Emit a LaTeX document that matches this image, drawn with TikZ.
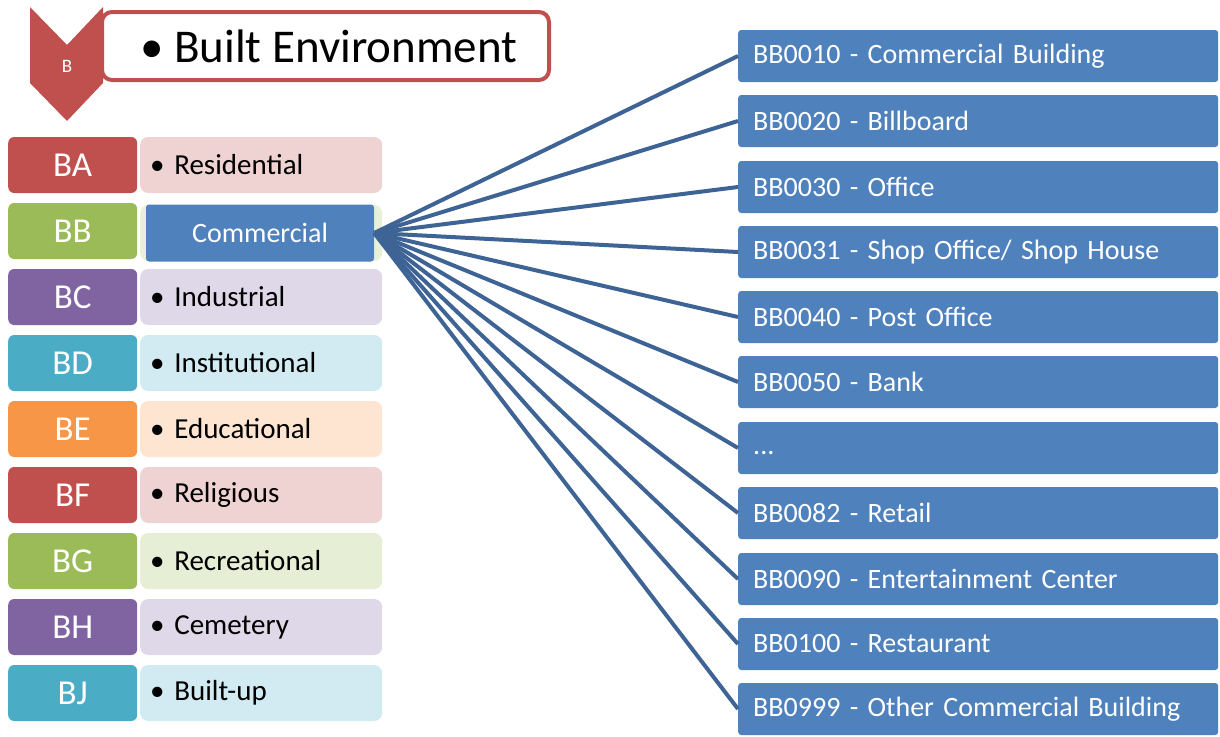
\documentclass[tikz,border=0pt]{standalone}
\usepackage{fontspec}
\setmainfont{Carlito}
\definecolor{cr}{HTML}{C0504D}
\definecolor{cg}{HTML}{9BBB59}
\definecolor{cp}{HTML}{8064A2}
\definecolor{ca}{HTML}{4BACC6}
\definecolor{co}{HTML}{F79646}
\definecolor{cb}{HTML}{4F81BD}
\definecolor{cl}{HTML}{3E6496}
\begin{document}
\begin{tikzpicture}[x=1pt,y=-1pt,
  code/.style={rounded corners=6pt, minimum width=129pt, minimum height=56pt, inner sep=0pt, text=white, font=\fontsize{35}{40}\selectfont, anchor=west},
  lab/.style={rounded corners=8pt, minimum height=56pt, text width=222pt, inner xsep=10pt, inner ysep=0pt, align=left, anchor=west, font=\fontsize{29}{34}\selectfont},
  item/.style={fill=cb, rounded corners=3pt, minimum height=52pt, text width=450pt, inner xsep=15pt, inner ysep=0pt, align=left, anchor=west, text=white, font=\fontsize{28}{32}\selectfont},
  conn/.style={draw=cl, line width=4pt}]
\useasboundingbox (0,0) rectangle (1220,736);

% header
\node[draw=cr, line width=4pt, fill=white, rounded corners=10pt, minimum width=447pt, minimum height=68pt, anchor=west] (head) at (100,46) {};
\node[anchor=west, inner sep=0pt, font=\fontsize{47}{54}\selectfont] (headtext) at (140,46) {\textbullet\ Built Environment};
\fill[cr] (30,7) -- (67,45) -- (103,7) -- (103,83) -- (67,121) -- (30,83) -- cycle;
\node[text=white, font=\fontsize{19}{22}\selectfont, inner sep=0pt] (chev) at (67,66) {B};

% left rows
\node[code, fill=cr] (c1) at (8,165) {BA};
\node[lab, fill=cr!25!white] (l1) at (140,165) {\textbullet\ Residential};
\node[code, fill=cg] (c2) at (8,231) {BB};
\node[lab, fill=cg!22!white] (l2) at (140,233) {};
\node[fill=cb, rounded corners=3pt, minimum width=228pt, minimum height=57pt, inner sep=0pt, text=white, font=\fontsize{28}{32}\selectfont] (com) at (260,233) {Commercial};
\node[code, fill=cp] (c3) at (8,297) {BC};
\node[lab, fill=cp!25!white] (l3) at (140,297) {\textbullet\ Industrial};
\node[code, fill=ca] (c4) at (8,363) {BD};
\node[lab, fill=ca!25!white] (l4) at (140,363) {\textbullet\ Institutional};
\node[code, fill=co] (c5) at (8,429) {BE};
\node[lab, fill=co!25!white] (l5) at (140,429) {\textbullet\ Educational};
\node[code, fill=cr] (c6) at (8,495) {BF};
\node[lab, fill=cr!25!white] (l6) at (140,495) {\textbullet\ Religious};
\node[code, fill=cg] (c7) at (8,561) {BG};
\node[lab, fill=cg!25!white] (l7) at (140,561) {\textbullet\ Recreational};
\node[code, fill=cp] (c8) at (8,627) {BH};
\node[lab, fill=cp!25!white] (l8) at (140,627) {\textbullet\ Cemetery};
\node[code, fill=ca] (c9) at (8,693) {BJ};
\node[lab, fill=ca!25!white] (l9) at (140,693) {\textbullet\ Built-up};

% right items
\node[item] (r1) at (738,56) {BB0010 - Commercial Building};
\node[item] (r2) at (738,121) {BB0020 - Billboard};
\node[item] (r3) at (738,187) {BB0030 - Office};
\node[item] (r4) at (738,252) {BB0031 - Shop Office/ Shop House};
\node[item] (r5) at (738,317) {BB0040 - Post Office};
\node[item] (r6) at (738,382) {BB0050 - Bank};
\node[item] (r7) at (738,448) {\smash{\raisebox{-6pt}{...}}};
\node[item] (r8) at (738,513) {BB0082 - Retail};
\node[item] (r9) at (738,579) {BB0090 - Entertainment Center};
\node[item] (r10) at (738,644) {BB0100 - Restaurant};
\node[item] (r11) at (738,709) {BB0999 - Other Commercial Building};

\foreach \i in {1,2,3,4,5,6,7,8,9,10,11}
  \draw[conn] (com.east) -- (r\i.west);
\end{tikzpicture}
\end{document}
